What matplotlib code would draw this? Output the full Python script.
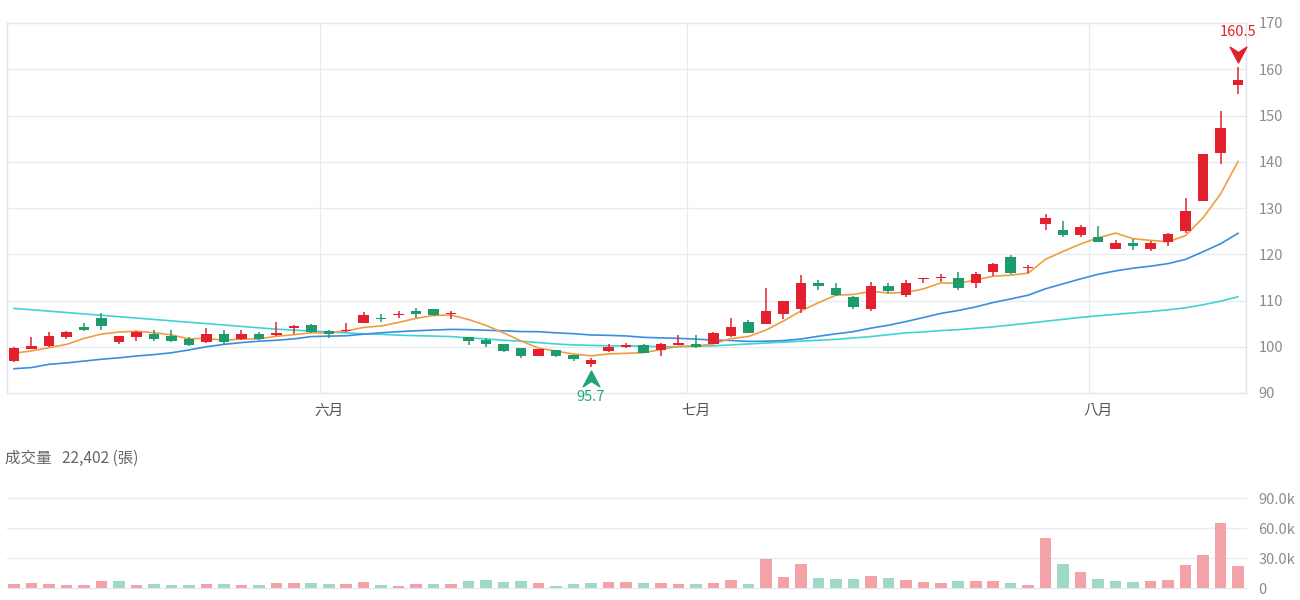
import numpy as np
import pandas as pd
import matplotlib
matplotlib.use('Agg')
import matplotlib.pyplot as plt
from matplotlib.path import Path
from matplotlib.transforms import offset_copy

plt.rcParams['font.family'] = ['Noto Sans CJK TC', 'DejaVu Sans']

# ---------------- data ----------------
months = ['六月', '七月', '八月']
month_start_idx = [18, 39, 62]

opens = [96.9, 99.6, 100.1, 102.2, 104.2, 106.3, 101.1, 102.2, 102.8, 102.3,
         101.7, 101.1, 102.7, 101.6, 102.8, 102.5, 104.0, 104.8, 103.4, 103.4,
         105.2, 106.3, 106.8, 107.7, 108.2, 107.0, 102.2, 101.4, 100.6, 99.8,
         98.1, 99.4, 98.3, 96.3, 99.1, 100.0, 100.3, 99.4, 100.4, 100.7,
         100.5, 102.4, 105.4, 105.0, 107.1, 108.1, 113.8, 112.7, 110.8, 108.2,
         113.2, 111.2, 114.6, 114.8, 114.8, 113.7, 116.2, 119.4, 117.0, 126.6,
         125.3, 124.2, 123.7, 121.1, 122.4, 121.1, 122.7, 125.0, 131.6, 142.0,
         156.6]
highs = [99.9, 102.2, 103.2, 103.3, 105.2, 107.2, 102.4, 103.4, 103.6, 103.6,
         102.1, 104.1, 103.6, 103.6, 103.2, 105.3, 104.6, 105.0, 103.7, 105.2,
         107.6, 107.1, 107.7, 108.4, 108.2, 107.7, 102.2, 101.8, 100.6, 99.8,
         99.6, 99.4, 98.3, 97.5, 100.5, 100.9, 100.5, 100.9, 102.6, 102.6,
         103.2, 106.2, 105.7, 112.6, 109.8, 115.6, 114.5, 113.7, 110.9, 113.9,
         113.7, 114.4, 114.9, 115.7, 116.2, 116.2, 118.2, 119.8, 117.6, 128.8,
         127.2, 126.3, 126.1, 123.1, 123.2, 122.9, 124.7, 132.2, 141.7, 151.0,
         160.5]
lows = [96.7, 99.5, 100.0, 101.7, 103.5, 103.7, 100.7, 101.2, 101.2, 101.0,
        100.1, 100.9, 100.7, 101.4, 101.4, 102.3, 102.7, 103.0, 101.9, 103.2,
        105.2, 105.3, 106.3, 106.3, 106.6, 105.9, 100.3, 99.9, 98.8, 97.5,
        98.0, 97.8, 97.0, 95.7, 98.8, 99.8, 98.6, 98.1, 100.3, 99.8,
        100.5, 102.2, 102.9, 105.0, 106.0, 107.3, 112.2, 110.9, 108.2, 107.7,
        111.7, 110.7, 113.7, 113.9, 112.3, 112.8, 115.2, 115.7, 115.9, 125.3,
        123.8, 123.8, 122.7, 121.1, 120.9, 120.7, 121.8, 124.7, 131.6, 139.6,
        154.6]
closes = [99.8, 100.1, 102.3, 103.2, 103.6, 104.5, 102.3, 103.2, 101.6, 101.2,
          100.3, 102.8, 101.1, 102.8, 101.6, 103.0, 104.5, 103.2, 102.7, 103.7,
          106.8, 106.1, 107.0, 107.1, 106.8, 107.3, 101.2, 100.6, 99.1, 98.0,
          99.6, 98.0, 97.4, 97.2, 100.0, 100.3, 98.7, 100.7, 100.9, 100.0,
          102.9, 104.3, 103.0, 107.8, 109.8, 113.8, 113.2, 111.1, 108.6, 113.2,
          112.0, 113.8, 114.9, 115.1, 112.7, 115.8, 117.8, 116.0, 117.3, 127.8,
          124.2, 125.8, 122.7, 122.4, 121.7, 122.4, 124.3, 129.4, 141.7, 147.3,
          157.7]
volumes = [4300, 4700, 4000, 3000, 3000, 6700, 7300, 3000, 4000, 3300,
           2700, 4300, 4000, 3000, 2700, 4700, 4700, 4700, 4300, 4000,
           5700, 2700, 2300, 3700, 3700, 4000, 6700, 7700, 6300, 7300,
           5000, 2300, 4000, 4700, 6300, 5700, 4700, 5000, 4300, 4000,
           5300, 8000, 4000, 29000, 10700, 24000, 9700, 9300, 8700, 12300,
           9700, 7700, 6300, 5300, 6700, 7300, 6700, 5000, 3000, 50000,
           24000, 16000, 9300, 7000, 6000, 7300, 8300, 22700, 33000, 65000,
           22402]

# moving-average values before enough history exists
ma5_head = [98.6, 99.1, 99.8, 100.5]
ma20_head = [95.25, 95.5, 96.2, 96.5, 96.9, 97.3, 97.6, 98.0, 98.3, 98.7,
             99.3, 100.0, 100.5, 100.9, 101.2, 101.4, 101.7, 102.2, 102.3]
ma60_head = [108.3, 108.0, 107.7, 107.4, 107.1, 106.8, 106.5, 106.2, 105.9, 105.6,
             105.3, 105.0, 104.7, 104.4, 104.1, 103.8, 103.6, 103.4, 103.2, 103.0,
             102.8, 102.7, 102.5, 102.4, 102.3, 102.2, 101.9, 101.7, 101.4, 101.2,
             100.9, 100.6, 100.4, 100.3, 100.2, 100.2, 100.1, 100.0, 100.0, 100.1,
             100.2, 100.4, 100.6, 100.8, 101.0, 101.2, 101.4, 101.6, 101.9, 102.2,
             102.6, 103.0, 103.2, 103.5, 103.7, 104.0, 104.3, 104.7, 105.1]

price_ticks = [90, 100, 110, 120, 130, 140, 150, 160, 170]
vol_ticks = [0, 30000, 60000, 90000]
vol_tick_labels = ['0', '30.0k', '60.0k', '90.0k']

# ---------------- styling ----------------
RED = '#E3202D'
GREEN = '#1C9B6C'
VRED = '#F3A2A7'
VGREEN = '#9FD9C5'
C_MA5 = '#F39C3F'
C_MA20 = '#3A8EE2'
C_MA60 = '#40D2D6'
GRID = '#E8EBF2'
FRAME = '#E1E5ED'
TICK = '#8C8C8C'

W, H = 1300, 600
n = len(closes)
x = np.arange(n)
o = np.array(opens); hi = np.array(highs); lo = np.array(lows); c = np.array(closes)
v = np.array(volumes)

cs = pd.Series(closes)
ma5 = cs.rolling(5).mean().to_numpy(); ma5[:len(ma5_head)] = ma5_head
ma20 = cs.rolling(20).mean().to_numpy(); ma20[:len(ma20_head)] = ma20_head
ma60 = cs.rolling(60).mean().to_numpy(); ma60[:len(ma60_head)] = ma60_head

up = c >= o
ccol = np.where(up, RED, GREEN)
vup = np.concatenate([[True], c[1:] >= c[:-1]])
vcol = np.where(vup, VRED, VGREEN)

fig = plt.figure(figsize=(13, 6), dpi=100)
xl = (-0.4003, 70.455)

# ---------------- price panel ----------------
ax = fig.add_axes([7 / W, 1 - 393 / H, 1239 / W, 370 / H])
ax.set_xlim(*xl)
ax.set_ylim(price_ticks[0], price_ticks[-1])
for t in price_ticks[1:-1]:
    ax.axhline(t, color=GRID, lw=1, zorder=0)
for m in month_start_idx:
    ax.axvline(m - 0.5, color=GRID, lw=1, zorder=0)
for s in ax.spines.values():
    s.set_color(FRAME)
    s.set_linewidth(1)

ax.plot(x, ma60, color=C_MA60, lw=1.2, zorder=2)
ax.plot(x, ma20, color=C_MA20, lw=1.2, zorder=2)
ax.plot(x, ma5, color=C_MA5, lw=1.2, zorder=2)

ax.vlines(x, lo, hi, colors=ccol, lw=1.1, zorder=3)
body_h = np.maximum(np.abs(c - o), 0.18)
body_b = np.minimum(o, c)
ax.bar(x, body_h, bottom=body_b, width=0.6, color=ccol, zorder=4)

ax.yaxis.tick_right()
ax.set_yticks(price_ticks)
ax.set_yticklabels([str(t) for t in price_ticks])
ax.tick_params(axis='y', length=0, pad=9, labelsize=10.5, labelcolor=TICK)
ax.set_xticks(month_start_idx)
ax.set_xticklabels(months)
ax.tick_params(axis='x', length=0, pad=8, labelsize=10.5, labelcolor='#555555')

# high / low markers
arrow_down = Path([(-1, 1), (0, -0.9), (1, 1), (0, 0.35), (-1, 1)],
                  [Path.MOVETO, Path.LINETO, Path.LINETO, Path.LINETO, Path.CLOSEPOLY])
arrow_up = Path([(-1, -1), (0, 0.9), (1, -1), (0, -0.35), (-1, -1)],
                [Path.MOVETO, Path.LINETO, Path.LINETO, Path.LINETO, Path.CLOSEPOLY])
ih = int(np.argmax(hi)); il = int(np.argmin(lo))
tr_hm = offset_copy(ax.transData, fig=fig, x=0, y=12, units='dots')
tr_ht = offset_copy(ax.transData, fig=fig, x=0, y=35, units='dots')
tr_lm = offset_copy(ax.transData, fig=fig, x=0, y=-11, units='dots')
tr_lt = offset_copy(ax.transData, fig=fig, x=0, y=-30, units='dots')
ax.plot([ih], [hi[ih]], marker=arrow_down, ms=12, color=RED, transform=tr_hm,
        clip_on=False, zorder=5)
ax.text(ih, hi[ih], f'{hi[ih]:.1f}', transform=tr_ht, ha='center', va='center',
        color=RED, fontsize=10.5, clip_on=False)
ax.plot([il], [lo[il]], marker=arrow_up, ms=12, color='#22A575', transform=tr_lm,
        clip_on=False, zorder=5)
ax.text(il, lo[il], f'{lo[il]:.1f}', transform=tr_lt, ha='center', va='center',
        color='#22A575', fontsize=10.5, clip_on=False)

# ---------------- volume panel ----------------
fig.text(5 / W, 1 - 458 / H, f'成交量   {volumes[-1]:,} (張)', ha='left', va='center',
         fontsize=11.2, color='#666666')

axv = fig.add_axes([7 / W, 12 / H, 1239 / W, 90 / H])
axv.set_xlim(*xl)
axv.set_ylim(vol_ticks[0], vol_ticks[-1])
for t in vol_ticks[1:]:
    axv.axhline(t, color=GRID, lw=1, zorder=0, clip_on=False)
for k, s in axv.spines.items():
    s.set_visible(k == 'bottom')
axv.spines['bottom'].set_color(FRAME)
axv.bar(x, v, width=0.66, color=vcol, zorder=2)
axv.yaxis.tick_right()
axv.set_yticks(vol_ticks)
axv.set_yticklabels(vol_tick_labels)
axv.tick_params(axis='y', length=0, pad=9, labelsize=10.5, labelcolor=TICK)
axv.set_xticks([])

fig.savefig('out.png', dpi=100)
